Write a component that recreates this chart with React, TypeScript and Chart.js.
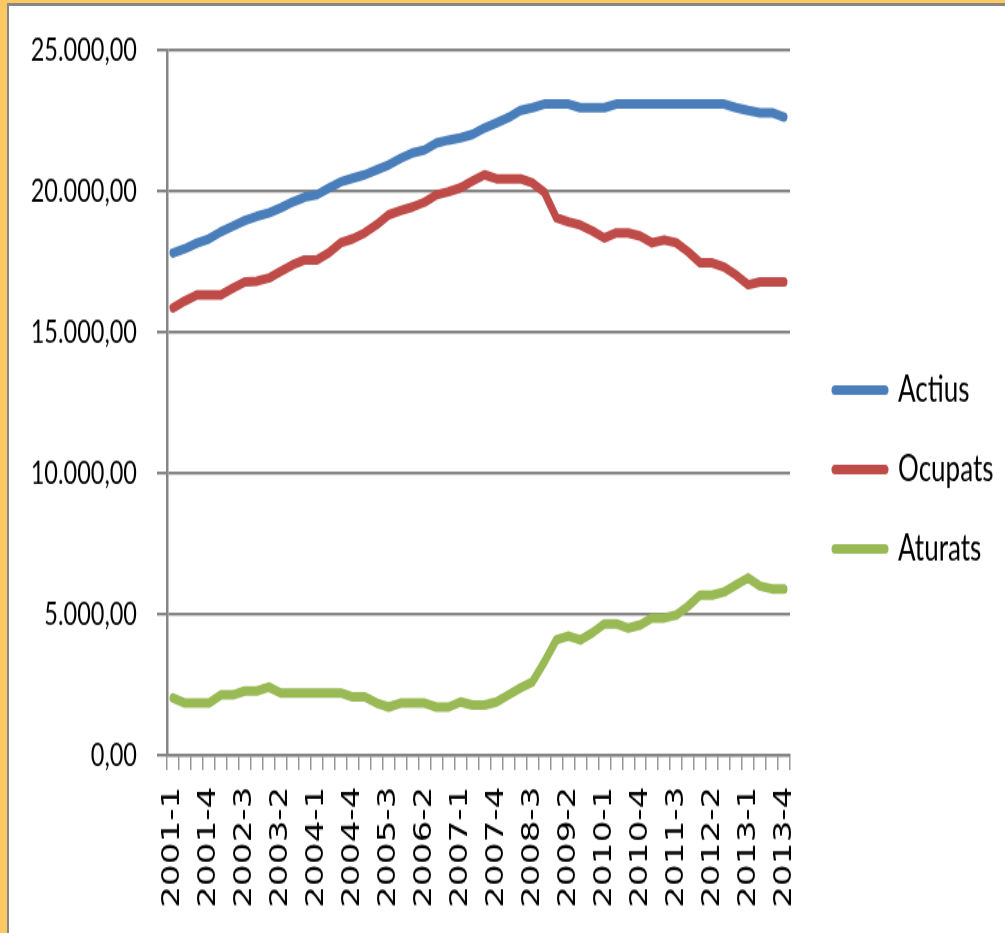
import React, { useEffect, useRef } from 'react';
import { Chart, registerables } from 'chart.js';

Chart.register(...registerables);

const categories = [
  '2001-1', '2001-2', '2001-3', '2001-4',
  '2002-1', '2002-2', '2002-3', '2002-4',
  '2003-1', '2003-2', '2003-3', '2003-4',
  '2004-1', '2004-2', '2004-3', '2004-4',
  '2005-1', '2005-2', '2005-3', '2005-4',
  '2006-1', '2006-2', '2006-3', '2006-4',
  '2007-1', '2007-2', '2007-3', '2007-4',
  '2008-1', '2008-2', '2008-3', '2008-4',
  '2009-1', '2009-2', '2009-3', '2009-4',
  '2010-1', '2010-2', '2010-3', '2010-4',
  '2011-1', '2011-2', '2011-3', '2011-4',
  '2012-1', '2012-2', '2012-3', '2012-4',
  '2013-1', '2013-2', '2013-3', '2013-4',
];

const actius = [
  17800, 17950, 18150, 18300, 18550, 18750, 18950, 19100, 19220, 19400,
  19610, 19780, 19860, 20100, 20320, 20450, 20570, 20750, 20920, 21150,
  21350, 21450, 21700, 21800, 21880, 22000, 22230, 22410, 22600, 22850,
  22950, 23080, 23080, 23080, 22950, 22950, 22950, 23080, 23080, 23080,
  23080, 23080, 23080, 23080, 23080, 23080, 23080, 22950, 22850, 22770,
  22770, 22620,
];

const ocupats = [
  15850, 16100, 16310, 16310, 16310, 16550, 16770, 16800, 16910, 17150,
  17380, 17550, 17550, 17800, 18160, 18300, 18510, 18800, 19150, 19300,
  19430, 19600, 19860, 19970, 20110, 20350, 20570, 20430, 20430, 20430,
  20280, 19950, 19050, 18900, 18790, 18580, 18330, 18510, 18510, 18400,
  18160, 18260, 18160, 17840, 17450, 17450, 17300, 17020, 16670, 16770,
  16770, 16770,
];

const aturats = [
  2020, 1840, 1840, 1840, 2130, 2130, 2270, 2270, 2410, 2200,
  2200, 2200, 2200, 2200, 2200, 2060, 2060, 1840, 1700, 1840,
  1840, 1840, 1700, 1700, 1880, 1770, 1770, 1880, 2130, 2380,
  2590, 3300, 4080, 4220, 4080, 4330, 4650, 4650, 4500, 4610,
  4860, 4860, 4960, 5280, 5670, 5670, 5780, 6030, 6280, 5990,
  5890, 5890,
];

const seriesNames = ['Actius', 'Ocupats', 'Aturats'];
const seriesColors = ['#4A7EBB', '#BE4B48', '#98B954'];
const yMin = 0;
const yMax = 25000;
const yStep = 5000;
const xLabelEvery = 3;

function fmt(v: number): string {
  const s = Math.round(v).toString().replace(/\B(?=(\d{3})+(?!\d))/g, '.');
  return s + ',00';
}

const CW = 996;
const CH = 677;
const CSS_H = 927;

export default function App() {
  const ref = useRef<HTMLCanvasElement>(null);

  useEffect(() => {
    const canvas = ref.current;
    if (!canvas) return;
    const family = "Lato, 'Liberation Sans', Arial, sans-serif";
    const legendFont = 26;
    const legendPad = 32;
    const boxW = 50;
    const legendBoxW = 202;
    const mctx = document.createElement('canvas').getContext('2d')!;
    mctx.font = `${legendFont}px ${family}`;
    const tw = Math.max(...seriesNames.map((n) => mctx.measureText(n).width));
    const natural = legendPad + boxW + legendFont / 2 + tw + 10;
    const padRight = Math.max(0, legendBoxW - natural);
    const seriesData = [actius, ocupats, aturats];

    const chart = new Chart(canvas, {
      type: 'line',
      data: {
        labels: categories,
        datasets: seriesNames.map((name, i) => ({
          label: name,
          data: seriesData[i],
          xAxisID: 'x',
          yAxisID: 'y',
          borderColor: seriesColors[i],
          backgroundColor: seriesColors[i],
          borderWidth: 7,
          pointRadius: 0,
          pointHoverRadius: 0,
          borderJoinStyle: 'round',
          borderCapStyle: 'round',
          tension: 0,
          fill: false,
        })),
      },
      options: {
        animation: false,
        responsive: false,
        devicePixelRatio: 1,
        layout: { padding: { left: 0, top: 0, right: padRight, bottom: 0 } },
        plugins: {
          legend: {
            position: 'right',
            align: 'center',
            maxWidth: legendBoxW,
            labels: {
              usePointStyle: true,
              pointStyle: 'line',
              pointStyleWidth: boxW,
              padding: legendPad,
              color: '#000',
              font: { family, size: legendFont },
              generateLabels: (c: any) =>
                (Chart.defaults.plugins.legend.labels as any)
                  .generateLabels(c)
                  .map((l: any, i: number) => ({
                    ...l,
                    lineWidth: 7,
                    lineCap: 'round',
                    strokeStyle: seriesColors[i],
                    fillStyle: seriesColors[i],
                  })),
            },
          },
          tooltip: { enabled: false },
        },
        scales: {
          x: {
            type: 'category',
            position: 'bottom',
            offset: true,
            afterFit: (s: any) => {
              s.height = 130;
            },
            grid: {
              offset: true,
              drawOnChartArea: false,
              drawTicks: true,
              tickLength: 11,
              color: '#9a9a9a',
              lineWidth: 1.5,
            },
            border: { display: true, color: '#868686', width: 2.2 },
            ticks: {
              autoSkip: false,
              maxRotation: 90,
              minRotation: 90,
              padding: 12,
              color: '#000',
              font: { family: "'DejaVu Sans', Verdana, sans-serif", size: 25 },
              callback: (_v: any, i: number) => (i % xLabelEvery === 0 ? categories[i] : ''),
            },
          },
          xTop: {
            type: 'linear',
            position: 'top',
            display: true,
            grid: { display: false, drawTicks: false },
            border: { display: false },
            ticks: { display: false },
            afterFit: (s: any) => {
              s.height = 32;
            },
          },
          y: {
            position: 'left',
            min: yMin,
            max: yMax,
            afterFit: (s: any) => {
              s.width = 158;
            },
            grid: { color: '#868686', lineWidth: 2.2, tickLength: 10, drawTicks: true },
            border: { display: true, color: '#868686', width: 2.5 },
            ticks: {
              stepSize: yStep,
              padding: 20,
              color: '#000',
              font: { family, size: 23.5, lineHeight: 0.9 },
              callback: (v: any) => fmt(Number(v)),
            },
          },
          gap: {
            type: 'linear',
            position: 'right',
            display: false,
            afterFit: (s: any) => {
              s.width = 13;
            },
          },
        },
      } as any,
    });
    return () => chart.destroy();
  }, []);

  return (
    <div
      style={{
        position: 'fixed',
        left: 0,
        top: 0,
        width: 1005,
        height: 933,
        background: '#fbc862',
        overflow: 'hidden',
      }}
    >
      <div
        style={{
          position: 'absolute',
          left: 7,
          top: 3,
          right: 0,
          bottom: 0,
          background: '#fff',
          borderLeft: '2px solid #878787',
          borderTop: '3px solid #878787',
        }}
      />
      <canvas
        ref={ref}
        width={CW}
        height={CH}
        style={{ position: 'absolute', left: 9, top: 6, width: `${CW}px`, height: `${CSS_H}px` }}
      />
    </div>
  );
}
